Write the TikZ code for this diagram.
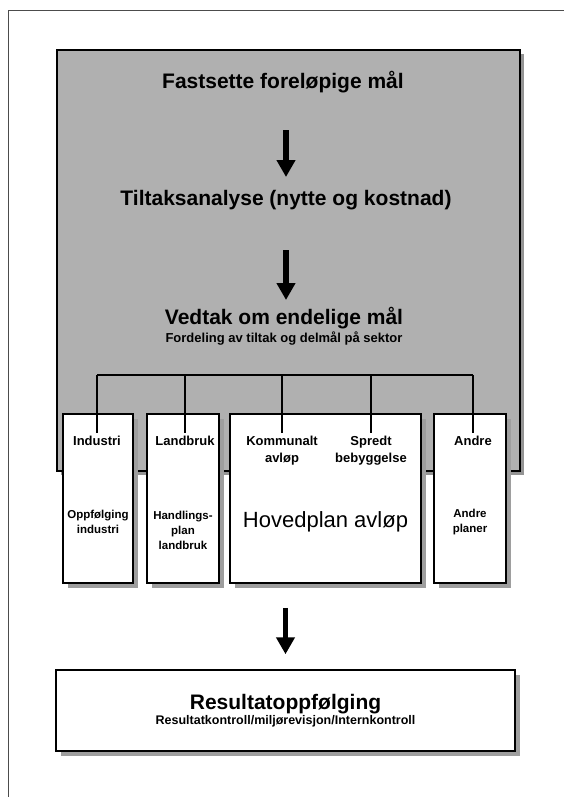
\documentclass[tikz,border=0pt]{standalone}
\usepackage{fontspec}
\setmainfont{Liberation Sans}
\usetikzlibrary{positioning,arrows.meta,shadows}

\tikzset{
  panel/.style={draw, line width=1.5pt, fill=black!31, inner sep=0pt,
    minimum width=463pt, minimum height=421pt,
    drop shadow={shadow xshift=4pt, shadow yshift=-4pt, fill=black!42, opacity=1}},
  sector/.style={draw, line width=1.5pt, fill=white, inner sep=0pt,
    minimum width=#1, minimum height=169pt,
    drop shadow={shadow xshift=5pt, shadow yshift=-5pt, fill=black!38, opacity=1}},
  title/.style={inner sep=2pt, font=\fontsize{21}{24}\selectfont\bfseries},
  tag/.style={anchor=north, inner sep=2pt, align=center,
    font=\fontsize{13}{17}\selectfont\bfseries},
  plan/.style={inner sep=2pt, align=center, font=\fontsize{11.5}{15}\selectfont\bfseries},
  bigarrow/.style={line width=5.5pt, -{Triangle[width=18pt,length=17pt]}}
}

\begin{document}
\begin{tikzpicture}[x=1pt, y=-1pt, line width=1.5pt]
\useasboundingbox (0,0) rectangle (564,797);
\draw[line width=.6pt, black!70] (8,797) -- (8,10) -- (564,10);

\node (panel) [panel] at (288.5,260.5) {};
\node (fast) [title] at (283,82) {Fastsette foreløpige mål};
\node (tilt) [title] at (286,200) {Tiltaksanalyse (nytte og kostnad)};
\node (vedtak) [title, align=center] at (284,326) {Vedtak om endelige mål\\[-6pt]
  {\fontsize{13}{15}\selectfont Fordeling av tiltak og delmål på sektor}};

\draw[bigarrow, shorten <=48pt, shorten >=23pt] (fast.center -| tilt.center) -- (tilt.center);
\draw[bigarrow, shorten <=50pt, shorten >=26pt] (tilt.center) -- (vedtak.center -| tilt.center);

% sektorene
\node (indbox) [sector=70pt] at (98,498.5) {};
\node (landbox) [sector=72pt] at (183,498.5) {};
\node (hovbox) [sector=191pt] at (325.5,498.5) {};
\node (andbox) [sector=72pt] at (470,498.5) {};

\node (ind) [tag] at (97,433) {Industri};
\node (land) [tag] at (185,433) {Landbruk};
\node (komm) [tag] at (282,433) {Kommunalt\\avløp};
\node (spredt) [tag] at (371,433) {Spredt\\bebyggelse};
\node (andre) [tag] at (473,433) {Andre};

\node (oppf) [plan] at (98,522) {Oppfølging\\industri};
\node (handl) [plan] at (183,530) {Handlings-\\plan\\landbruk};
\node (hoved) [inner sep=2pt, font=\fontsize{22}{26}\selectfont] at (325.5,522) {Hovedplan avløp};
\node (andpl) [plan] at (470,522) {Andre\\planer};

\coordinate (bar) at (285,375);
\draw (ind.north |- bar) -- (andre.north |- bar);
\foreach \n in {ind,land,komm,spredt,andre}
  \draw (\n.north |- bar) -- (\n.north);

\node (result) [draw, fill=white, inner sep=0pt, minimum width=459pt, minimum height=81pt,
  align=center, drop shadow={shadow xshift=5pt, shadow yshift=-5pt, fill=black!38, opacity=1}]
  at (285.5,710.5) {{\fontsize{21}{23}\selectfont\bfseries Resultatoppfølging}\\[1pt]
  {\fontsize{12.5}{14}\selectfont\bfseries Resultatkontroll/miljørevisjon/Internkontroll}};

\draw[bigarrow, shorten <=24pt, shorten >=15pt] (hovbox.south -| result.north) -- (result.north);
\end{tikzpicture}
\end{document}
